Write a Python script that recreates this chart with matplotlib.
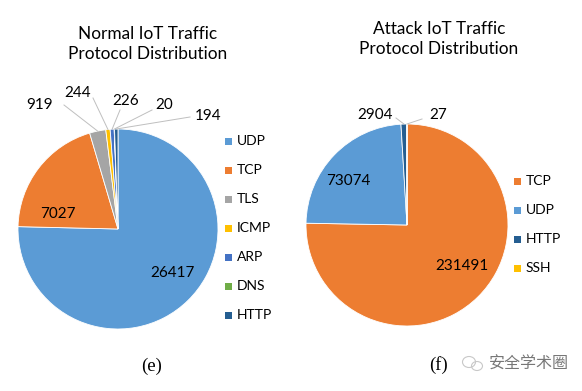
import matplotlib
matplotlib.use("Agg")
import matplotlib.pyplot as plt
import numpy as np
from matplotlib.patches import Ellipse, Rectangle

# ---- data ----
normal_labels = ["UDP", "TCP", "TLS", "ICMP", "ARP", "DNS", "HTTP"]
normal_values = [26417, 7027, 919, 244, 226, 20, 194]
attack_labels = ["TCP", "UDP", "HTTP", "SSH"]
attack_values = [231491, 73074, 2904, 27]

colors = {"UDP": "#5B9BD5", "TCP": "#ED7D31", "TLS": "#A5A5A5", "ICMP": "#FFC000",
          "ARP": "#4472C4", "DNS": "#70AD47", "HTTP": "#255E91", "SSH": "#FFC000"}

W, H = 582, 391
fig = plt.figure(figsize=(W / 100, H / 100), dpi=100)
ax = fig.add_axes([0, 0, 1, 1])
ax.set_xlim(0, W)
ax.set_ylim(0, H)
ax.set_aspect("equal")
ax.axis("off")

FONT = "Lato"

def Y(y):
    return H - y

def draw_pie(cx, cy, r, labels, values, title, title_x, title_y, inner, outer, legend_x, legend_y0, legend_dy):
    wedges, _ = ax.pie(values, colors=[colors[l] for l in labels], startangle=90, counterclock=False,
                       center=(cx, Y(cy)), radius=r, frame=True,
                       wedgeprops=dict(edgecolor="white", linewidth=0.6))
    ax.set_xlim(0, W); ax.set_ylim(0, H); ax.axis("off")
    ax.text(title_x, Y(title_y), title, ha="center", va="center", fontsize=12.4, family=FONT, linespacing=1.3)
    # inside labels
    for i, (tx, ty) in inner.items():
        ax.text(tx, Y(ty), f"{values[i]}", ha="center", va="center", fontsize=11, family=FONT)
    # outside labels with leader lines
    for i, (tx, ty, lx, ly) in outer.items():
        w = wedges[i]
        ang = np.deg2rad((w.theta1 + w.theta2) / 2)
        ex = cx + r * np.cos(ang)
        ey = Y(cy) + r * np.sin(ang)
        ax.plot([lx, ex], [Y(ly), ey], color="#BFBFBF", lw=0.7)
        ax.text(tx, Y(ty), f"{values[i]}", ha="center", va="center", fontsize=11, family=FONT)
    # legend
    for k, l in enumerate(labels):
        yy = legend_y0 + k * legend_dy
        ax.add_patch(Rectangle((legend_x, Y(yy) - 3.5), 7, 7, color=colors[l], lw=0))
        ax.text(legend_x + 12, Y(yy), l, ha="left", va="center", fontsize=10, family=FONT)

draw_pie(118, 229, 100, normal_labels, normal_values,
         "Normal IoT Traffic\nProtocol Distribution", 148, 44,
         inner={0: (172, 273), 1: (58, 214)},
         outer={2: (40, 105, 64, 105), 3: (78, 93, 93, 98), 4: (126, 101, 120, 110),
                5: (164, 105, 152, 110), 6: (208, 116, 190, 117)},
         legend_x=225, legend_y0=141, legend_dy=29)

draw_pie(407, 225, 101, attack_labels, attack_values,
         "Attack IoT Traffic\nProtocol Distribution", 439, 39,
         inner={1: (348, 181), 0: (462, 266)},
         outer={2: (375, 115, 396, 118), 3: (438, 115, 422, 119)},
         legend_x=514, legend_y0=181, legend_dy=29)

# captions
ax.text(152, Y(366), "(e)", ha="center", va="center", fontsize=13.5, family="Liberation Serif")
ax.text(439, Y(365), "(f)", ha="center", va="center", fontsize=13.5, family="Liberation Serif")
# watermark
ax.add_patch(Ellipse((469, Y(362)), 13, 11, fill=False, ec="#C8C8C8", lw=0.8))
ax.add_patch(Ellipse((477, Y(366)), 11, 9, fill=False, ec="#C8C8C8", lw=0.8))
ax.text(529, Y(364), "安全学术圈", ha="center", va="center", fontsize=11.5,
        family=["Noto Sans CJK SC", "DejaVu Sans"], color="#777777")

fig.savefig("out.png", dpi=100)
